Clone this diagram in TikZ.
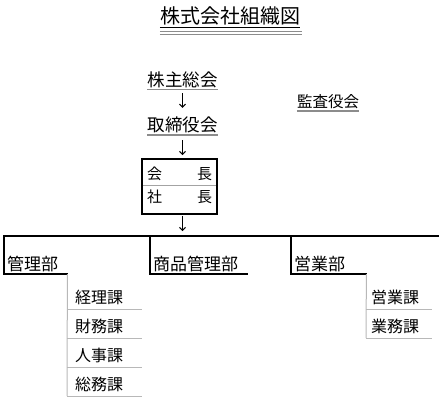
\documentclass[tikz,border=0pt]{standalone}
\usepackage{fontspec}
\setmainfont{Noto Sans CJK JP}
\usetikzlibrary{arrows.meta}
\definecolor{ulgray}{gray}{0.55}
\definecolor{sepgray}{gray}{0.72}
\tikzset{
    org label/.style={
        inner sep=0pt,anchor=base,
        text height=14pt,text depth=3.5pt,
        font=\fontsize{17.5}{17.5}\selectfont
    },
    dept/.style={
        anchor=south west,inner xsep=3pt,inner ysep=0pt,align=left,
        text height=13pt,text depth=3pt,
        font=\fontsize{17}{17}\selectfont
    },
    section/.style={
        anchor=south west,inner ysep=0pt,align=left,
        text height=13pt,text depth=5.5pt,
        font=\fontsize{16}{16}\selectfont
    },
    chair row/.style={
        anchor=north west,inner xsep=5pt,inner ysep=0pt,text width=65pt,
        font=\fontsize{15}{15}\selectfont
    },
    underline/.style={ulgray,line width=1.5pt},
    bracket/.style={line width=2pt,line cap=rect},
    sep line/.style={sepgray,line width=1pt},
    down arrow/.style={->,line width=1pt},
    >={Straight Barb[length=3pt,width=6pt]}
}

\begin{document}
\begin{tikzpicture}[x=1pt,y=-1pt]
\useasboundingbox (0,0) rectangle (441,402);
% title
\node[inner sep=0pt,anchor=base,text height=15pt,text depth=3.6pt,
      font=\fontsize{20}{20}\selectfont] (title) at (230,23.6) {株式会社組織図};
\draw[line width=1pt] (title.south west) -- (title.south east);
\draw[ulgray,line width=1.3pt] ([yshift=-4pt]title.south west) -- ([xshift=2pt,yshift=-4pt]title.south east);
\draw[ulgray,line width=1.3pt] ([yshift=-6.8pt]title.south west) -- ([xshift=2pt,yshift=-6.8pt]title.south east);

% top of the chain
\node[org label] (soukai) at (182.5,86) {株主総会};
\node[org label] (torishimari) at (182.5,131.5) {取締役会};
\node[org label,font=\fontsize{15.5}{15.5}\selectfont,text depth=4pt] (kansa) at (328,107) {監査役会};
\foreach \n in {soukai,torishimari,kansa}
    \draw[underline] (\n.south west) -- (\n.south east);

% chairman / president box
\node[chair row,text height=20pt,text depth=6pt] (kaichou) at (142,159) {会\hfill 長};
\node[chair row,text height=17pt,text depth=11pt] (shachou) at (kaichou.south west) {社\hfill 長};
\draw[ulgray!80,line width=1.5pt] (kaichou.south west) -- (kaichou.south east);
\draw[line width=2pt] (kaichou.north west) rectangle (shachou.south east);

% bus
\coordinate (bus_w) at (4,236);
\coordinate (bus_e) at (438,236);
\coordinate (bus_c) at (182.5,236);
\draw[bracket] (bus_w) -- (bus_e);

\draw[down arrow,shorten <=3.5pt,shorten >=9.5pt] (soukai.south) -- (torishimari.north);
\draw[down arrow,shorten <=5pt,shorten >=4pt] (torishimari.south) -- (torishimari.south |- kaichou.north);
\draw[down arrow,shorten <=2pt,shorten >=5pt] (shachou.south -| bus_c) -- (bus_c);

% departments
\foreach \i/\x/\e/\name in {1/4/67/管理部,2/150/247/商品管理部,3/291/366/営業部}{
    \pgfmathsetmacro\w{\e-\x-6}
    \coordinate (bus_\i) at (\x,236);
    \node[dept,text width=\w pt] (bu_\i) at (\x,274) {\name};
    \draw[bracket] (bus_\i) |- (bu_\i.south east);
}

% sections
\foreach \i/\name in {1/経理課,2/財務課,3/人事課,4/総務課}{
    \node[section,inner xsep=8pt,text width=59pt] (ka_\i) at (67,{280+29*\i}) {\name};
    \draw[sep line] (ka_\i.south west) -- (ka_\i.south east);
}
\draw[sep line] (bu_1.south east) -- (ka_4.south west);

\foreach \i/\name in {1/営業課,2/業務課}{
    \node[section,inner xsep=5pt,text width=56pt] (eka_\i) at (366,{280+29*\i}) {\name};
    \draw[sep line] (eka_\i.south west) -- (eka_\i.south east);
}
\draw[sep line] (bu_3.south east) -- (eka_2.south west);
\end{tikzpicture}
\end{document}
